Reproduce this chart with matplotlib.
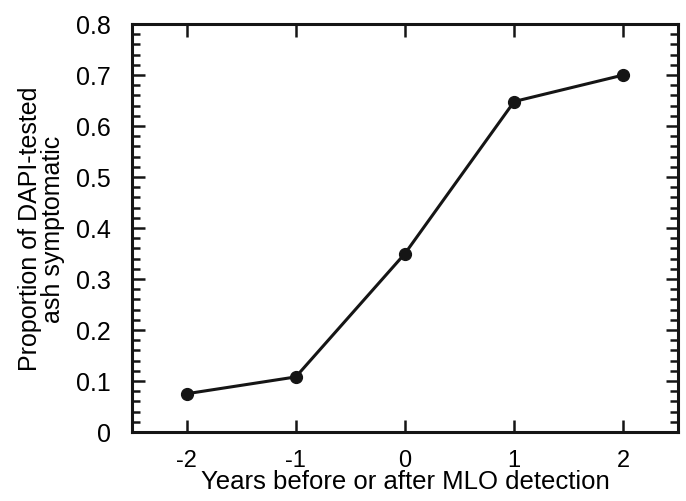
import matplotlib
matplotlib.use("Agg")
import matplotlib.pyplot as plt
from matplotlib.ticker import MultipleLocator

years = [-2, -1, 0, 1, 2]
proportion = [0.075, 0.108, 0.35, 0.648, 0.70]

plt.rcParams['font.family'] = ['Liberation Sans', 'DejaVu Sans']

fig = plt.figure(figsize=(6.86, 5.02), dpi=100)
ax = fig.add_axes([132 / 686, 1 - 433 / 502, (678 - 132) / 686, (433 - 25) / 502])

ax.plot(years, proportion, color='#151515', lw=2.2, marker='o', ms=8.5)

ax.set_xlim(-2.5, 2.5)
ax.set_ylim(0, 0.8)
ax.set_xticks(years)
ax.set_xticklabels([str(y) for y in years])
ax.yaxis.set_major_locator(MultipleLocator(0.1))
ax.yaxis.set_minor_locator(MultipleLocator(0.02))
ax.set_yticklabels(['0' if v == 0 else f'{v:.1f}' for v in ax.get_yticks()])

ax.tick_params(which='both', direction='in', top=True, right=True, labelsize=18, width=1.8, color='#151515')
ax.tick_params(which='major', length=9, pad=15)
ax.tick_params(which='minor', length=6)
ax.tick_params(axis='x', which='major', pad=12, labelsize=17)
ax.tick_params(axis='x', which='minor', top=False, bottom=False)
for s in ax.spines.values():
    s.set_linewidth(2.2)
    s.set_color('#151515')

ax.set_xlabel('Years before or after MLO detection', fontsize=18.5, labelpad=-1)
ax.set_ylabel('Proportion of DAPI-tested\nash symptomatic', fontsize=18, labelpad=8, linespacing=0.95)

fig.savefig('out.png', dpi=100)
